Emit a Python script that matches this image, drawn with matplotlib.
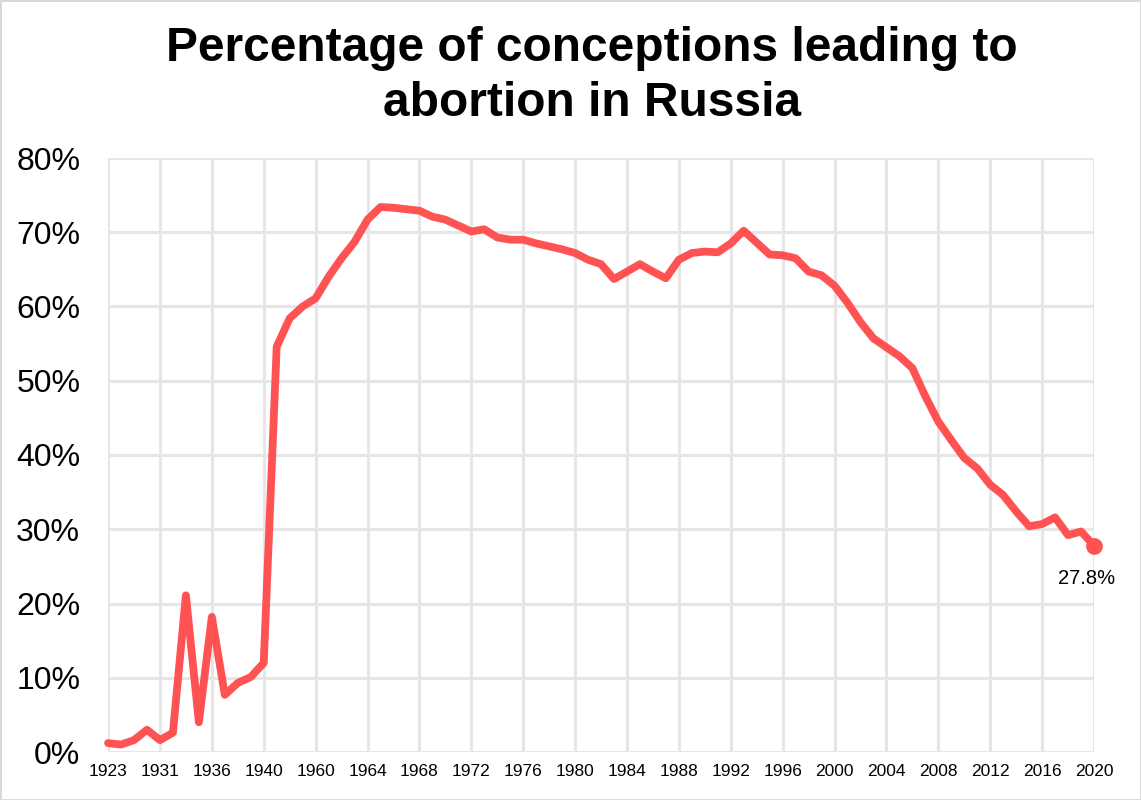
import matplotlib.pyplot as plt

plt.rcParams['font.family'] = ['Liberation Sans', 'DejaVu Sans']

years = ['1923', '1924', '1926', '1929', '1931', '1932', '1934', '1935', '1936',
         '1937', '1938', '1939', '1940', '1955', '1956', '1958'] + \
        [str(y) for y in range(1960, 2021)]

share = [1.2, 1.0, 1.6, 3.0, 1.6, 2.6, 21.1, 4.0, 18.2,
         7.7, 9.3, 10.1, 12.0, 54.6, 58.4, 60.0,
         # 1960-1969
         61.1, 64.0, 66.5, 68.7, 71.7, 73.4, 73.3, 73.1, 72.9, 72.1,
         # 1970-1979
         71.7, 70.9, 70.1, 70.4, 69.3, 69.0, 69.0, 68.5, 68.1, 67.7,
         # 1980-1989
         67.2, 66.3, 65.7, 63.7, 64.7, 65.7, 64.7, 63.8, 66.3, 67.2,
         # 1990-1999
         67.4, 67.3, 68.5, 70.2, 68.6, 67.0, 66.9, 66.5, 64.7, 64.2,
         # 2000-2009
         62.8, 60.5, 57.9, 55.7, 54.5, 53.3, 51.7, 47.9, 44.5, 42.0,
         # 2010-2019
         39.6, 38.2, 36.0, 34.6, 32.4, 30.4, 30.7, 31.6, 29.2, 29.7,
         # 2020
         27.8]

red = '#ff5252'
grid = '#e6e6e6'

fig = plt.figure(figsize=(11.41, 8), dpi=100)
fig.patch.set_edgecolor('#d9d9d9')
fig.patch.set_linewidth(2)
ax = fig.add_axes([0.0947, 0.06, 0.8641, 0.7425])

x = list(range(len(years)))
ax.plot(x, share, color=red, linewidth=5.6, solid_joinstyle='round',
        solid_capstyle='round', zorder=3, clip_on=False)
ax.plot(x[-1], share[-1], 'o', color=red, markersize=11, zorder=4, clip_on=False)
ax.annotate(f'{share[-1]}%', (x[-1], share[-1]), xytext=(-5, -17),
            textcoords='offset points', ha='center', va='top', fontsize=14.5)

ax.set_xlim(0, len(years) - 1)
ax.set_ylim(0, 80)
ax.set_xticks(x[::4])
ax.set_xticklabels(years[::4], fontsize=12.5)
ax.set_yticks(range(0, 81, 10))
ax.set_yticklabels([f'{v}%' for v in range(0, 81, 10)], fontsize=23)
ax.tick_params(axis='x', length=0, pad=9)
ax.tick_params(axis='y', length=0, pad=20)
ax.grid(True, color=grid, linewidth=2.2)
ax.set_axisbelow(True)
for s in ax.spines.values():
    s.set_visible(False)

fig.suptitle('Percentage of conceptions leading to\nabortion in Russia',
             fontsize=34.5, fontweight='bold', x=0.519, y=0.968, linespacing=1.3)

fig.savefig('out.png', dpi=100)
